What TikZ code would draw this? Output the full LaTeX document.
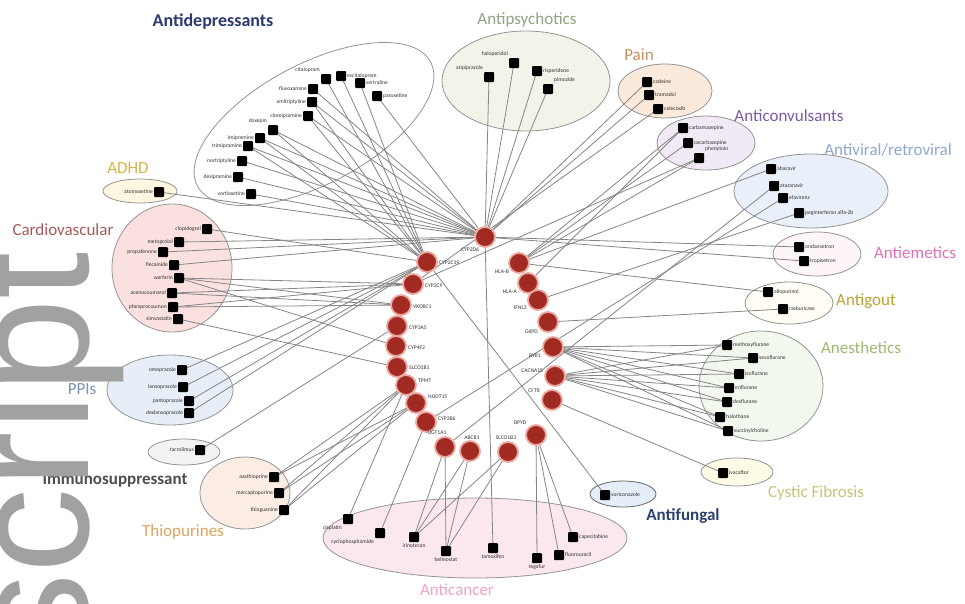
\documentclass[tikz,border=0pt]{standalone}
\usepackage{fontspec}
\setmainfont{Carlito}
\newfontfamily\wmfont{Liberation Sans}
\definecolor{genered}{HTML}{A12A22}
\definecolor{genehalo}{HTML}{EBA9A1}
\pgfdeclarelayer{back}\pgfdeclarelayer{mid}\pgfdeclarelayer{front}
\pgfsetlayers{back,mid,main,front}
\begin{document}
\begin{tikzpicture}[x=1pt,y=-1pt,
  drug/.style={fill=black, minimum size=10pt, inner sep=0pt, outer sep=0pt, rounded corners=1pt},
  gene/.style={circle, fill=genered, draw=genehalo, line width=1.8pt, minimum size=20pt, inner sep=0pt},
  dl/.style={font=\fontsize{5.6}{6}\selectfont, text=black!80, inner sep=1pt},
  gl/.style={font=\fontsize{5.6}{6}\selectfont, text=black!80, inner sep=0pt},
  grp/.style={draw=black!42, line width=0.8pt},
  edge/.style={draw=black!48, line width=0.8pt},
  ttl/.style={font=\fontsize{17}{19}\selectfont, inner sep=0pt},
]
\useasboundingbox (0,0) rectangle (965,603);
\begin{pgfonlayer}{back}
\fill[white] (0,0) rectangle (965,603);
\draw[grp, fill=white, rotate around={28:(314,124)}] (314,124) ellipse [x radius=132, y radius=60];
\draw[grp, fill={rgb,255:red,243;green,243;blue,234}] (526,81) ellipse [x radius=84, y radius=50];
\draw[grp, fill={rgb,255:red,251;green,234;blue,219}] (665,91) ellipse [x radius=47, y radius=27];
\draw[grp, fill={rgb,255:red,242;green,233;blue,246}] (706,143) ellipse [x radius=49, y radius=27];
\draw[grp, fill={rgb,255:red,234;green,240;blue,249}] (811,191) ellipse [x radius=77, y radius=37];
\draw[grp, fill={rgb,255:red,253;green,245;blue,249}] (817,254) ellipse [x radius=44, y radius=22];
\draw[grp, fill={rgb,255:red,255;green,253;blue,245}] (789,303) ellipse [x radius=44, y radius=21];
\draw[grp, fill={rgb,255:red,243;green,248;blue,239}] (761,386) ellipse [x radius=62, y radius=55];
\draw[grp, fill={rgb,255:red,253;green,251;blue,230}] (737,472) ellipse [x radius=36, y radius=14];
\draw[grp, fill={rgb,255:red,228;green,237;blue,248}, draw=black!60] (623,494) ellipse [x radius=33, y radius=13];
\draw[grp, fill={rgb,255:red,251;green,231;blue,239}] (475,538) ellipse [x radius=152, y radius=40];
\draw[grp, fill={rgb,255:red,251;green,237;blue,227}] (245,493) ellipse [x radius=45, y radius=36];
\draw[grp, fill={rgb,255:red,243;green,243;blue,243}] (184,452) ellipse [x radius=36, y radius=13];
\draw[grp, fill={rgb,255:red,231;green,238;blue,248}] (170,390) ellipse [x radius=63, y radius=35];
\draw[grp, fill={rgb,255:red,251;green,224;blue,224}] (172,268) ellipse [x radius=60, y radius=64];
\draw[grp, fill={rgb,255:red,253;green,247;blue,226}] (140,191) ellipse [x radius=37, y radius=12];
\end{pgfonlayer}

% titles
\node[ttl, font=\fontsize{18}{20}\selectfont\bfseries, text={rgb,255:red,46;green,58;blue,110}] at (213,22) {Antidepressants};
\node[ttl, text={rgb,255:red,143;green,164;blue,127}] at (527,20) {Antipsychotics};
\node[ttl, text={rgb,255:red,196;green,146;blue,100}] at (639,55) {Pain};
\node[ttl, text={rgb,255:red,123;green,90;blue,166}] at (789,116) {Anticonvulsants};
\node[ttl, text={rgb,255:red,142;green,167;blue,207}] at (888,150) {Antiviral/retroviral};
\node[ttl, text={rgb,255:red,224;green,112;blue,180}] at (915,253) {Antiemetics};
\node[ttl, text={rgb,255:red,191;green,160;blue,48}] at (866,301) {Antigout};
\node[ttl, text={rgb,255:red,156;green,187;blue,110}] at (861,348) {Anesthetics};
\node[ttl, text={rgb,255:red,201;green,196;blue,122}] at (816,493) {Cystic Fibrosis};
\node[ttl, font=\fontsize{17}{19}\selectfont\bfseries, text={rgb,255:red,43;green,65;blue,111}] at (683,516) {Antifungal};
\node[ttl, text={rgb,255:red,237;green,166;blue,200}] at (457,590) {Anticancer};
\node[ttl, text={rgb,255:red,226;green,162;blue,92}] at (183,532) {Thiopurines};
\node[ttl, font=\fontsize{17}{19}\selectfont\bfseries, text={rgb,255:red,78;green,78;blue,78}] at (115,480) {Immunosuppressant};
\node[ttl, text={rgb,255:red,120;green,149;blue,184}] at (82,389) {PPIs};
\node[ttl, text={rgb,255:red,169;green,89;blue,91}] at (63,230) {Cardiovascular};
\node[ttl, text={rgb,255:red,216;green,180;blue,70}] at (128,168) {ADHD};

% genes
\node[gene] (H) at (485,237) {};
\node[gene] (L1) at (427,262) {};
\node[gene] (L2) at (413,284) {};
\node[gene] (L3) at (401,305) {};
\node[gene] (L4) at (397,326) {};
\node[gene] (L5) at (396,346) {};
\node[gene] (L6) at (397,367) {};
\node[gene] (L7) at (406,385) {};
\node[gene] (L8) at (416,403) {};
\node[gene] (L9) at (426,422) {};
\node[gene] (B1) at (445,447) {};
\node[gene] (B2) at (470,451) {};
\node[gene] (B3) at (508,452) {};
\node[gene] (R1) at (519,263) {};
\node[gene] (R2) at (528,283) {};
\node[gene] (R3) at (538,300) {};
\node[gene] (R4) at (548,322) {};
\node[gene] (R5) at (553,347) {};
\node[gene] (R6) at (555,376) {};
\node[gene] (R7) at (552,400) {};
\node[gene] (R8) at (536,435) {};

\node[gl] at (470,250) {CYP2D6};
\node[gl, anchor=west] at (439,263) {CYP2C19};
\node[gl, anchor=west] at (425,286) {CYP2C9};
\node[gl, anchor=west] at (413,307) {VKORC1};
\node[gl, anchor=west] at (409,328) {CYP3A5};
\node[gl, anchor=west] at (408,348) {CYP4F2};
\node[gl, anchor=west] at (409,368) {SLCO1B1};
\node[gl, anchor=west] at (418,381) {TPMT};
\node[gl, anchor=west] at (428,397) {NUDT15};
\node[gl, anchor=west] at (438,419) {CYP2B6};
\node[gl] at (437,433) {UGT1A1};
\node[gl] at (472,438) {ABCB1};
\node[gl] at (506,438) {SLCO1B3};
\node[gl] at (520,423) {DPYD};
\node[gl, anchor=east] at (509,272) {HLA-B};
\node[gl, anchor=east] at (517,292) {HLA-A};
\node[gl, anchor=east] at (527,308) {IFNL3};
\node[gl, anchor=east] at (538,332) {G6PD};
\node[gl, anchor=east] at (541,356) {RYR1};
\node[gl, anchor=east] at (543,371) {CACNA1S};
\node[gl, anchor=east] at (540,391) {CFTR};

% drugs
\node[drug,label={[dl]above left:citalopram}] (a1) at (326,79) {};
\node[drug,label={[dl]right:escitalopram}] (a2) at (341,76) {};
\node[drug,label={[dl]right:sertraline}] (a3) at (360,83) {};
\node[drug,label={[dl]right:paroxetine}] (a4) at (377,96) {};
\node[drug,label={[dl]left:fluvoxamine}] (a5) at (313,89) {};
\node[drug,label={[dl]left:amitriptyline}] (a6) at (312,102) {};
\node[drug,label={[dl]left:clomipramine}] (a7) at (308,116) {};
\node[drug,label={[dl]above left:doxepin}] (a8) at (273,130) {};
\node[drug,label={[dl]left:imipramine}] (a9) at (260,138) {};
\node[drug,label={[dl]left:trimipramine}] (a10) at (248,146) {};
\node[drug,label={[dl]left:nortriptyline}] (a11) at (242,161) {};
\node[drug,label={[dl]left:desipramine}] (a12) at (238,177) {};
\node[drug,label={[dl]left:vortioxetine}] (a13) at (251,194) {};

\node[drug,label={[dl]above left:aripiprazole}] (p1) at (489,77) {};
\node[drug,label={[dl]above left:haloperidol}] (p2) at (514,63) {};
\node[drug,label={[dl]right:risperidone}] (p3) at (537,71) {};
\node[drug,label={[dl]above right:pimozide}] (p4) at (548,89) {};

\node[drug,label={[dl]right:codeine}] (n1) at (647,82) {};
\node[drug,label={[dl]right:tramadol}] (n2) at (649,95) {};
\node[drug,label={[dl]right:celecoxib}] (n3) at (658,109) {};

\node[drug,label={[dl]right:carbamazepine}] (c1) at (683,128) {};
\node[drug,label={[dl]right:oxcarbazepine}] (c2) at (688,143) {};
\node[drug,label={[dl]above right:phenytoin}] (c3) at (699,158) {};

\node[drug,label={[dl]right:abacavir}] (v1) at (771,169) {};
\node[drug,label={[dl]right:atazanavir}] (v2) at (774,186) {};
\node[drug,label={[dl]right:efavirenz}] (v3) at (783,198) {};
\node[drug,label={[dl]right:peginterferon alfa-2b}] (v4) at (799,213) {};

\node[drug,label={[dl]right:ondansetron}] (e1) at (799,247) {};
\node[drug,label={[dl]right:tropisetron}] (e2) at (804,261) {};

\node[drug,label={[dl]right:allopurinol}] (t1) at (768,292) {};
\node[drug,label={[dl]right:rasburicase}] (t2) at (783,309) {};

\node[drug,label={[dl]right:methoxyflurane}] (s1) at (727,345) {};
\node[drug,label={[dl]right:sevoflurane}] (s2) at (753,358) {};
\node[drug,label={[dl]right:isoflurane}] (s3) at (739,374) {};
\node[drug,label={[dl]right:enflurane}] (s4) at (729,388) {};
\node[drug,label={[dl]right:desflurane}] (s5) at (727,402) {};
\node[drug,label={[dl]right:halothane}] (s6) at (720,417) {};
\node[drug,label={[dl]right:succinylcholine}] (s7) at (728,431) {};

\node[drug,label={[dl]right:ivacaftor}] (f1) at (723,473) {};
\node[drug,label={[dl]right:voriconazole}] (u1) at (605,495) {};

\node[drug,label={[dl]below left:cisplatin}] (k1) at (348,519) {};
\node[drug,label={[dl]below left:cyclophosphamide}] (k2) at (380,533) {};
\node[drug,label={[dl]below:irinotecan}] (k3) at (414,537) {};
\node[drug,label={[dl]below:belinostat}] (k4) at (446,551) {};
\node[drug,label={[dl]below:tamoxifen}] (k5) at (493,548) {};
\node[drug,label={[dl]below:tegafur}] (k6) at (537,558) {};
\node[drug,label={[dl]right:fluorouracil}] (k7) at (559,555) {};
\node[drug,label={[dl]right:capecitabine}] (k8) at (573,537) {};

\node[drug,label={[dl]left:azathioprine}] (h1) at (274,477) {};
\node[drug,label={[dl]left:mercaptopurine}] (h2) at (279,493) {};
\node[drug,label={[dl]left:thioguanine}] (h3) at (284,510) {};

\node[drug,label={[dl]left:tacrolimus}] (i1) at (200,450) {};

\node[drug,label={[dl]left:omeprazole}] (q1) at (182,370) {};
\node[drug,label={[dl]left:lansoprazole}] (q2) at (183,387) {};
\node[drug,label={[dl]left:pantoprazole}] (q3) at (189,401) {};
\node[drug,label={[dl]left:dexlansoprazole}] (q4) at (189,413) {};

\node[drug,label={[dl]left:clopidogrel}] (d1) at (207,229) {};
\node[drug,label={[dl]left:metoprolol}] (d2) at (179,242) {};
\node[drug,label={[dl]left:propafenone}] (d3) at (163,252) {};
\node[drug,label={[dl]left:flecainide}] (d4) at (174,265) {};
\node[drug,label={[dl]left:warfarin}] (d5) at (179,278) {};
\node[drug,label={[dl]left:acenocoumarol}] (d6) at (172,293) {};
\node[drug,label={[dl]left:phenprocoumon}] (d7) at (173,307) {};
\node[drug,label={[dl]left:simvastatin}] (d8) at (178,319) {};

\node[drug,label={[dl]left:atomoxetine}] (x1) at (159,192) {};

% edges
\begin{pgfonlayer}{mid}
\foreach \d/\g in {a4/H,a5/H,a6/H,a7/H,a8/H,a9/H,a10/H,a11/H,a12/H,a13/H,
  p1/H,p2/H,p3/H,p4/H,n1/H,n2/H,e1/H,e2/H,d2/H,d3/H,d4/H,x1/H,k5/H,
  a1/L1,a2/L1,a3/L1,a6/L1,a7/L1,a8/L1,a9/L1,a10/L1,q1/L1,q2/L1,q3/L1,q4/L1,d1/L1,u1/L1,
  n3/L2,c3/L2,d5/L2,d6/L2,d7/L2,d5/L3,d6/L3,d7/L3,i1/L4,d5/L5,d8/L6,
  h1/L7,h2/L7,h3/L7,k1/L7,h1/L8,h2/L8,h3/L8,v3/L9,k2/L9,
  v2/B1,k3/B1,k4/B1,k3/B2,k4/B2,k3/B3,k4/B3,
  c1/R1,c2/R1,c3/R1,v1/R1,t1/R1,c1/R2,v4/R3,t2/R4,
  s1/R5,s2/R5,s3/R5,s4/R5,s5/R5,s6/R5,s7/R5,
  s1/R6,s2/R6,s3/R6,s4/R6,s5/R6,s6/R6,s7/R6,
  f1/R7,k6/R8,k7/R8,k8/R8}
  \draw[edge] (\d) -- (\g);
\end{pgfonlayer}

% watermark
\begin{pgfonlayer}{front}
\begin{scope}
\clip (0,0) rectangle (965,603);
\node[rotate=90, anchor=base west, inner sep=0pt, outer sep=0pt, text=black!37, font=\wmfont\fontsize{170}{170}\selectfont] (wm) at (88,658) {script};
\end{scope}
\end{pgfonlayer}
\end{tikzpicture}
\end{document}
